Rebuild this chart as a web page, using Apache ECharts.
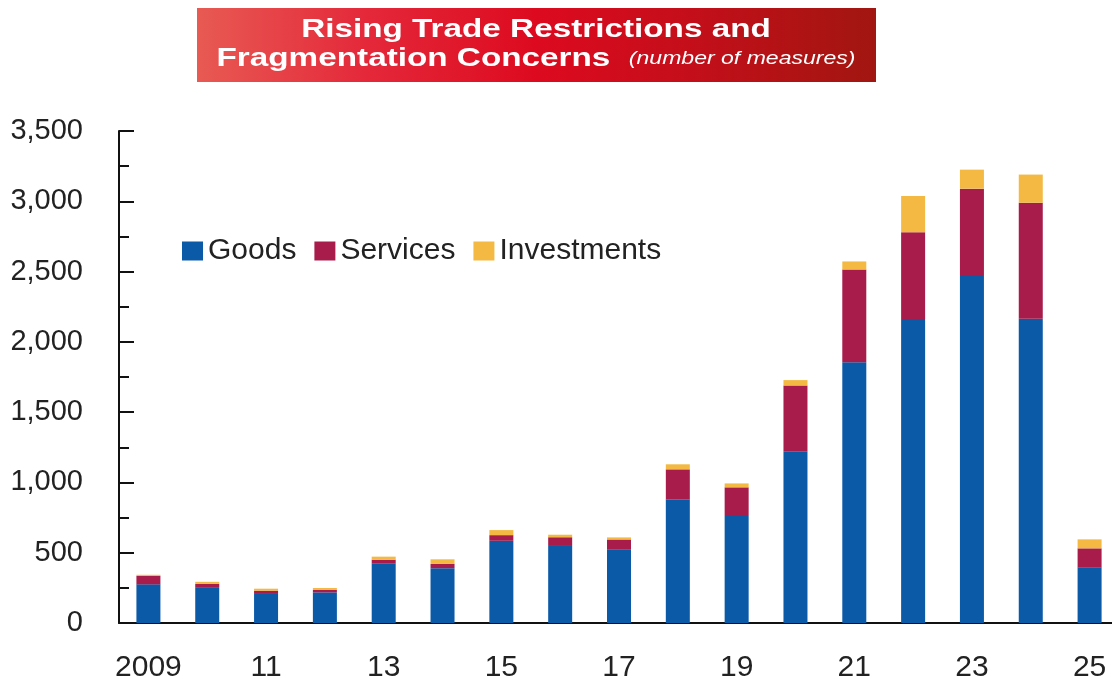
<!DOCTYPE html>
<html>
<head>
<meta charset="utf-8">
<script src="https://cdn.jsdelivr.net/npm/echarts@6/dist/echarts.min.js"></script>
<style>
  html, body { margin: 0; padding: 0; background: #fff; overflow: hidden; }
  /* plot area runs a few pixels past the right edge of the page */
  #chart { width: 1119px; height: 688px; }
</style>
</head>
<body>
<div id="chart"></div>
<script>
// Trade restriction measures per year, split by type
const years = ['2009', '10', '11', '12', '13', '14', '15', '16', '17', '18', '19', '20', '21', '22', '23', '24', '25'];
const goods = [275, 250, 213, 218, 425, 390, 585, 548, 524, 878, 768, 1218, 1855, 2155, 2475, 2165, 396];
const services = [60, 28, 17, 17, 25, 30, 40, 62, 70, 215, 197, 472, 660, 625, 615, 825, 135];
const investments = [8, 15, 14, 14, 22, 33, 36, 18, 15, 36, 28, 38, 57, 257, 135, 200, 64];
const yTicks = [0, 500, 1000, 1500, 2000, 2500, 3000, 3500];

const colors = { goods: '#0a5aa8', services: '#a81c4b', investments: '#f4b942' };
const textFont = 'Liberation Sans, Arial, sans-serif';

const chart = echarts.init(document.getElementById('chart'));

function barSeries(name, data, color) {
  return {
    name: name,
    type: 'bar',
    stack: 'total',
    data: data,
    barWidth: 24,
    itemStyle: { color: color },
    emphasis: { disabled: true }
  };
}

chart.setOption({
  animation: false,
  backgroundColor: '#fff',
  textStyle: { fontFamily: textFont },
  graphic: [
    {
      type: 'rect',
      shape: { x: 197, y: 8, width: 679, height: 74 },
      style: {
        fill: new echarts.graphic.LinearGradient(0, 0, 1, 0, [
          { offset: 0, color: '#e85a53' },
          { offset: 0.25, color: '#e4283a' },
          { offset: 0.5, color: '#dd0a1f' },
          { offset: 0.75, color: '#c10f19' },
          { offset: 1, color: '#a11610' }
        ])
      },
      z: 10
    },
    {
      type: 'text',
      x: 536,
      y: 30,
      scaleX: 1.28,
      style: {
        x: 0, y: 0,
        text: 'Rising Trade Restrictions and',
        fill: '#fff',
        font: 'bold 26px ' + textFont,
        align: 'center',
        verticalAlign: 'middle'
      },
      z: 11
    },
    {
      type: 'text',
      x: 536,
      y: 59,
      scaleX: 1.28,
      style: {
        x: 0, y: 0,
        text: '{b|Fragmentation Concerns}  {i|(number of measures)}',
        rich: {
          b: { fill: '#fff', fontSize: 26, fontWeight: 'bold', fontFamily: textFont },
          i: { fill: '#fff', fontSize: 18, fontStyle: 'italic', fontFamily: textFont }
        },
        fill: '#fff',
        font: 'bold 26px ' + textFont,
        align: 'center',
        verticalAlign: 'middle'
      },
      z: 11
    }
  ],
  legend: {
    left: 182,
    top: 236,
    padding: 0,
    icon: 'rect',
    itemWidth: 21,
    itemHeight: 19,
    itemGap: 18,
    selectedMode: false,
    textStyle: { fontSize: 30, color: '#222', fontFamily: textFont },
    data: ['Goods', 'Services', 'Investments']
  },
  grid: { left: 119, right: 0, top: 131, bottom: 65, containLabel: false },
  xAxis: {
    type: 'category',
    data: years,
    boundaryGap: true,
    axisLine: { lineStyle: { color: '#111', width: 2 } },
    axisTick: { show: false },
    axisLabel: {
      interval: 1,
      fontSize: 30,
      color: '#222',
      margin: 30,
      fontFamily: textFont
    },
    splitLine: { show: false }
  },
  yAxis: {
    type: 'value',
    min: yTicks[0],
    max: yTicks[yTicks.length - 1],
    interval: 500,
    axisLine: { show: true, lineStyle: { color: '#111', width: 2 } },
    axisTick: { show: true, inside: true, length: 15, lineStyle: { color: '#111', width: 2 } },
    minorTick: { show: true, splitNumber: 2, length: 10, lineStyle: { color: '#111', width: 2 } },
    axisLabel: {
      fontSize: 29,
      color: '#222',
      margin: 36,
      fontFamily: textFont,
      formatter: function (v) { return v.toLocaleString('en-US'); }
    },
    splitLine: { show: false }
  },
  series: [
    barSeries('Goods', goods, colors.goods),
    barSeries('Services', services, colors.services),
    barSeries('Investments', investments, colors.investments)
  ]
});
</script>
</body>
</html>
